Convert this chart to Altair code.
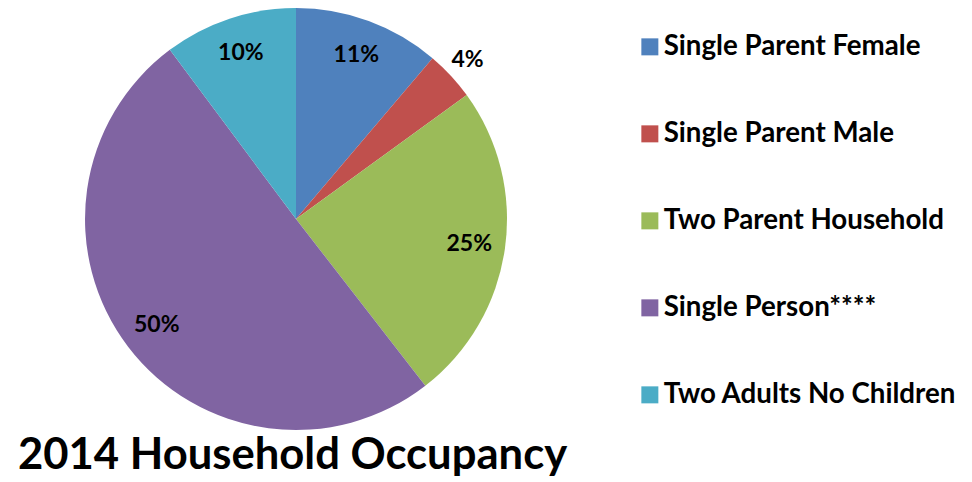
import altair as alt
import pandas as pd

categories = ["Single Parent Female", "Single Parent Male", "Two Parent Household",
              "Single Person****", "Two Adults No Children"]
values = [11.2, 3.8, 24.5, 50.3, 10.2]
labels = ["11%", "4%", "25%", "50%", "10%"]
colors = ["#4F81BD", "#C0504D", "#9BBB59", "#8064A2", "#4BACC6"]

df = pd.DataFrame({"category": categories, "value": values, "label": labels,
                   "order": list(range(len(categories)))})

FONT = "Lato"
CX, CY = 288, 205

pie = alt.Chart(df).mark_arc(outerRadius=211, strokeWidth=0).encode(
    theta=alt.Theta("value:Q", stack=True),
    order=alt.Order("order:Q"),
    x=alt.value(CX),
    y=alt.value(CY),
    color=alt.Color("category:N", sort=categories,
                    scale=alt.Scale(domain=categories, range=colors),
                    legend=alt.Legend(title=None, orient="none", legendX=628, legendY=19,
                                      symbolType="square", symbolSize=289,
                                      symbolStrokeWidth=0,
                                      labelFont=FONT, labelFontSize=27.7,
                                      labelFontWeight="bold", labelColor="#000000",
                                      labelOffset=0, rowPadding=58, labelLimit=400))
)

txt_style = dict(font=FONT, fontSize=23, fontWeight="bold", color="#000000")

stacked = alt.Chart(df).transform_stack(
    stack="value", groupby=[], as_=["v0", "v1"],
    sort=[alt.SortField("order", order="ascending")]
).transform_calculate(mid="(datum.v0 + datum.v1) / 2")

# labels inside the pie (large slices)
text_in = stacked.transform_filter("datum.value >= 5").mark_text(
    radius=175, **txt_style
).encode(theta=alt.Theta("mid:Q", stack=None), x=alt.value(CX), y=alt.value(CY),
         text="label:N")

# labels outside the pie (small slices)
text_out = stacked.transform_filter("datum.value < 5").mark_text(
    radius=234, **txt_style
).encode(theta=alt.Theta("mid:Q", stack=None), x=alt.value(CX), y=alt.value(CY),
         text="label:N")

chart = alt.layer(pie, text_in, text_out).properties(
    width=956, height=424, padding=0,
    title=alt.Title("2014 Household Occupancy", orient="bottom", anchor="start",
                    font=FONT, fontSize=43.6, fontWeight="bold", color="#000000",
                    dx=10, offset=-3),
).configure_view(stroke=None)

chart.save("out.html", embed_options={"renderer": "svg", "actions": False})
